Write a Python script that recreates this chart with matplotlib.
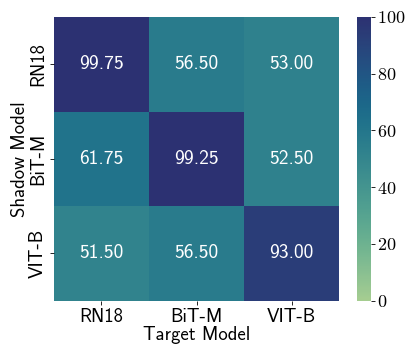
import matplotlib
matplotlib.use("Agg")
import matplotlib.pyplot as plt
import numpy as np
import seaborn as sns
from matplotlib.ticker import FuncFormatter

shadow_models = ["RN18", "BiT-M", "VIT-B"]
target_models = ["RN18", "BiT-M", "VIT-B"]
row_rn18 = [99.75, 56.50, 53.00]
row_bitm = [61.75, 99.25, 52.50]
row_vitb = [51.50, 56.50, 93.00]
cbar_ticks = [0, 20, 40, 60, 80, 100]

plt.rcParams["font.family"] = ["cmss10", "DejaVu Sans"]
plt.rcParams["mathtext.fontset"] = "cm"
plt.rcParams["axes.unicode_minus"] = False

data = np.array([row_rn18, row_bitm, row_vitb])

fig = plt.figure(figsize=(4.15, 3.46), dpi=100)
ax = fig.add_axes([0.130, 0.131, 0.687, 0.820])
cax = fig.add_axes([0.860, 0.131, 0.034, 0.820])

sns.heatmap(data, ax=ax, cbar_ax=cax, cmap="crest", vmin=0, vmax=100,
            annot=True, fmt=".2f", annot_kws={"fontsize": 14, "color": "white"},
            xticklabels=target_models, yticklabels=shadow_models)

ax.set_xlabel("Target Model", fontsize=13.5, labelpad=0)
ax.set_ylabel("Shadow Model", fontsize=13.5, labelpad=0)
ax.tick_params(axis="both", labelsize=13.5, length=3, width=0.6, pad=2)
ax.tick_params(axis="y", rotation=90)
for t in ax.get_yticklabels():
    t.set_va("center")

cax.set_yticks(cbar_ticks)
cax.yaxis.set_major_formatter(FuncFormatter(lambda v, p: r"$%d$" % v))
cax.tick_params(labelsize=13, length=3, width=0.6, pad=1)

fig.savefig("out.png", dpi=100)
